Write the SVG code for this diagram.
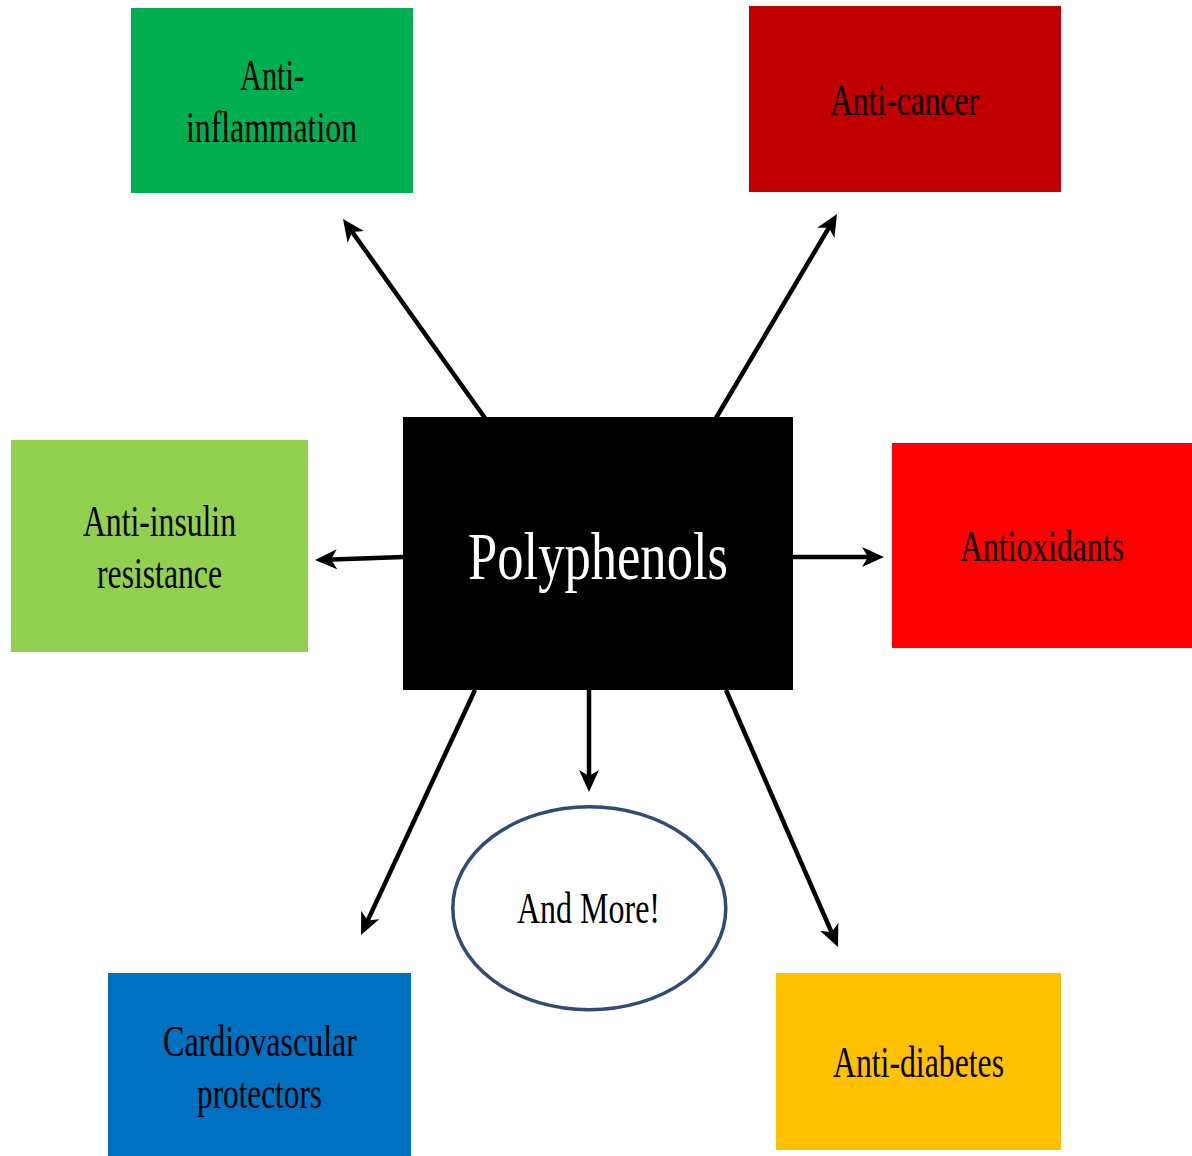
<svg xmlns="http://www.w3.org/2000/svg" width="1192" height="1156" viewBox="0 0 1192 1156">
  <style>
    .lbl { font-family: "Liberation Serif", "Times New Roman", serif; font-size: 44px; fill: #000; text-anchor: middle; }
    .big { font-family: "Liberation Serif", "Times New Roman", serif; font-size: 68px; fill: #fff; text-anchor: middle; }
    .conn { stroke: #000; stroke-width: 4.5; fill: none; marker-end: url(#arr); }
  </style>
  <defs>
    <marker id="arr" markerUnits="userSpaceOnUse" viewBox="0 0 22 20" markerWidth="22" markerHeight="20" refX="12" refY="10" orient="auto">
      <path d="M0,0 L22,10 L0,20 L6,10 z" fill="#000"/>
    </marker>
  </defs>
  <rect width="1192" height="1156" fill="#fff"/>

  <g id="connectors">
    <line class="conn" x1="485" y1="418" x2="348.8" y2="227.1"/>
    <line class="conn" x1="716" y1="418" x2="831.9" y2="222.6"/>
    <line class="conn" x1="404" y1="557" x2="325" y2="559.7"/>
    <line class="conn" x1="793" y1="557" x2="874" y2="557"/>
    <line class="conn" x1="589" y1="690" x2="589" y2="782"/>
    <line class="conn" x1="475" y1="690" x2="365.2" y2="925.9"/>
    <line class="conn" x1="726" y1="690" x2="834" y2="937.8"/>
  </g>

  <g id="polyphenols">
    <rect x="403" y="417" width="390" height="273" fill="#000"/>
    <text class="big" x="598" y="579" textLength="260" lengthAdjust="spacingAndGlyphs">Polyphenols</text>
  </g>

  <g id="anti-inflammation">
    <rect x="131" y="8" width="282" height="185" fill="#00B050"/>
    <text class="lbl" x="272" y="90" textLength="64" lengthAdjust="spacingAndGlyphs">Anti-</text>
    <text class="lbl" x="271.5" y="142" textLength="171" lengthAdjust="spacingAndGlyphs">inflammation</text>
  </g>

  <g id="anti-cancer">
    <rect x="749" y="6" width="312" height="186" fill="#C00000"/>
    <text class="lbl" x="904.5" y="115" textLength="149" lengthAdjust="spacingAndGlyphs">Anti-cancer</text>
  </g>

  <g id="anti-insulin">
    <rect x="11" y="440" width="297" height="212" fill="#92D050"/>
    <text class="lbl" x="159.5" y="536" textLength="153" lengthAdjust="spacingAndGlyphs">Anti-insulin</text>
    <text class="lbl" x="159.5" y="588" textLength="125" lengthAdjust="spacingAndGlyphs">resistance</text>
  </g>

  <g id="antioxidants">
    <rect x="892" y="443" width="300" height="205" fill="#FF0000"/>
    <text class="lbl" x="1042" y="561" textLength="164" lengthAdjust="spacingAndGlyphs">Antioxidants</text>
  </g>

  <g id="and-more">
    <ellipse cx="589.3" cy="908.3" rx="136.5" ry="101.5" fill="#fff" stroke="#2E4C75" stroke-width="3.5"/>
    <text class="lbl" x="588.5" y="923" textLength="143" lengthAdjust="spacingAndGlyphs">And More!</text>
  </g>

  <g id="cardiovascular">
    <rect x="108" y="973" width="303" height="183" fill="#0070C0"/>
    <text class="lbl" x="260" y="1056" textLength="194" lengthAdjust="spacingAndGlyphs">Cardiovascular</text>
    <text class="lbl" x="259.5" y="1108" textLength="125" lengthAdjust="spacingAndGlyphs">protectors</text>
  </g>

  <g id="anti-diabetes">
    <rect x="776" y="973" width="285" height="177" fill="#FFC000"/>
    <text class="lbl" x="918.5" y="1077" textLength="171" lengthAdjust="spacingAndGlyphs">Anti-diabetes</text>
  </g>
</svg>
